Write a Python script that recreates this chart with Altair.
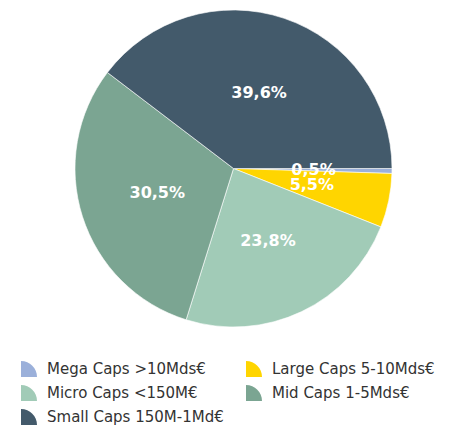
import math
import altair as alt
import pandas as pd

categories = ["Mega Caps >10Mds€", "Large Caps 5-10Mds€", "Micro Caps <150M€", "Mid Caps 1-5Mds€", "Small Caps 150M-1Md€"]
values = [0.5, 5.5, 23.8, 30.5, 39.6]
labels = ["0,5%", "5,5%", "23,8%", "30,5%", "39,6%"]
colors = ["#9bb0da", "#ffd500", "#a1cbb7", "#7ba592", "#435a6b"]

# legend is filled column by column: order domain so rows read Mega/Large, Micro/Mid, Small
legend_order = [0, 2, 4, 1, 3]
legend_domain = [categories[i] for i in legend_order]
legend_range = [colors[i] for i in legend_order]

df = pd.DataFrame({"cat": categories, "val": values, "lab": labels, "ord": list(range(len(categories)))})

theta = alt.Theta("val:Q", stack=True,
                  scale=alt.Scale(range=[math.pi / 2, math.pi / 2 + 2 * math.pi]))
color = alt.Color("cat:N", scale=alt.Scale(domain=legend_domain, range=legend_range),
                  legend=alt.Legend(
                      title=None, orient="none", legendX=13, legendY=352, columns=2,
                      columnPadding=22, rowPadding=8, padding=0,
                      symbolType="M -1 1 L -1 -1 A 2 2 0 0 1 1 1 Z",
                      symbolSize=256, symbolStrokeWidth=0, symbolOpacity=1,
                      labelFont="DejaVu Sans", labelFontSize=15, labelColor="#333333",
                      labelOffset=10, labelLimit=300))
order = alt.Order("ord:Q", sort="ascending")
cx = alt.value(225.5)
cy = alt.value(159.5)

base = alt.Chart(df)
arcs = base.mark_arc(outerRadius=158.5, stroke="white", strokeWidth=0.6).encode(
    theta=theta, color=color, order=order, x=cx, y=cy)
text = base.mark_text(radius=80, font="DejaVu Sans", fontWeight="bold", fontSize=16,
                      color="white", align="center", baseline="middle").encode(
    theta=theta, text="lab:N", order=order, x=cx, y=cy)

chart = (alt.layer(arcs, text)
         .properties(width=443, height=416, padding=0)
         .configure_view(stroke=None))
chart.save("out.html", embed_options={"renderer": "svg", "actions": False})
